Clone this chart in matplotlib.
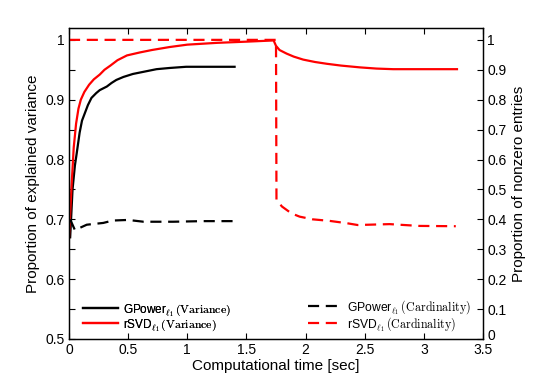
import matplotlib
matplotlib.use("Agg")
import matplotlib.pyplot as plt
import matplotlib.transforms as mtransforms

plt.rcParams['font.family'] = ['Liberation Sans', 'DejaVu Sans']
plt.rcParams['mathtext.fontset'] = 'cm'

# GPower variance (left axis)
gp_var_t = [0.01, 0.03, 0.05, 0.065, 0.09, 0.11, 0.135, 0.16, 0.19, 0.23, 0.26, 0.32, 0.36, 0.40,
            0.46, 0.54, 0.64, 0.74, 0.85, 0.99, 1.2, 1.4]
gp_var_v = [0.67, 0.75, 0.79, 0.81, 0.845, 0.865, 0.878, 0.891, 0.903, 0.911, 0.916, 0.922, 0.928, 0.933,
            0.938, 0.943, 0.947, 0.951, 0.953, 0.955, 0.955, 0.955]

# rSVD variance (left axis)
rs_var_t = [0.0, 0.02, 0.04, 0.06, 0.08, 0.10, 0.13, 0.17, 0.21, 0.26, 0.30, 0.35, 0.41, 0.49, 0.60,
            0.70, 0.85, 1.0, 1.25, 1.5, 1.73, 1.75, 1.78, 1.84, 1.90, 1.98, 2.08, 2.18, 2.30, 2.46,
            2.60, 2.74, 3.0, 3.28]
rs_var_v = [0.669, 0.75, 0.82, 0.86, 0.885, 0.90, 0.913, 0.925, 0.934, 0.942, 0.95, 0.957, 0.966, 0.974,
            0.979, 0.983, 0.988, 0.992, 0.995, 0.997, 0.999, 0.99, 0.983, 0.977, 0.972, 0.967, 0.963,
            0.960, 0.957, 0.954, 0.952, 0.951, 0.951, 0.951]

# GPower cardinality (right axis)
gp_card_t = [0.01, 0.05, 0.15, 0.29, 0.37, 0.50, 0.63, 0.88, 1.13, 1.40]
gp_card_v = [0.40, 0.364, 0.382, 0.388, 0.396, 0.398, 0.392, 0.392, 0.394, 0.394]

# rSVD cardinality (right axis)
rs_card_t = [0.0, 1.75, 1.754, 1.80, 1.88, 1.95, 2.06, 2.20, 2.35, 2.44, 2.71, 2.96, 3.27]
rs_card_v = [1.0, 1.0, 0.465, 0.443, 0.42, 0.409, 0.400, 0.395, 0.387, 0.381, 0.384, 0.378, 0.377]

left_ticks = [0.5, 0.55, 0.6, 0.65, 0.7, 0.75, 0.8, 0.85, 0.9, 0.95, 1.0]
left_labels = ['0.5', '', '0.6', '', '0.7', '', '0.8', '', '0.9', '', '1']
right_ticks = [0, 0.1, 0.2, 0.3, 0.4, 0.5, 0.6, 0.7, 0.8, 0.9, 1.0]
right_labels = ['0', '0.1', '0.2', '0.3', '0.4', '0.5', '0.6', '0.7', '0.8', '0.9', '1']
x_ticks = [0, 0.5, 1, 1.5, 2, 2.5, 3, 3.5]
x_labels = ['0', '0.5', '1', '1.5', '2', '2.5', '3', '3.5']

fig = plt.figure(figsize=(5.34, 3.82), dpi=100)
ax = fig.add_axes([0.1292, 0.1126, 0.7753, 0.8128])
ax2 = ax.twinx()

lw = 1.6
l1, = ax.plot(gp_var_t, gp_var_v, color='black', lw=lw, label=r'GPower$_{\ell_1}\,\mathrm{(Variance)}$')
l2, = ax.plot(rs_var_t, rs_var_v, color='#ff0000', lw=lw, label=r'rSVD$_{\ell_1}\,\mathrm{(Variance)}$')
l3, = ax2.plot(gp_card_t, gp_card_v, color='black', lw=lw, dashes=(5, 3), label=r'GPower$_{\ell_1}\,\mathrm{(Cardinality)}$')
l4, = ax2.plot(rs_card_t, rs_card_v, color='#ff0000', lw=lw, dashes=(5, 3), label=r'rSVD$_{\ell_1}\,\mathrm{(Cardinality)}$')

ax.set_xlim(0, 3.5)
ax.set_ylim(0.5, 1.019)
ax2.set_ylim(0, 1.038)

ax.set_xticks(x_ticks)
ax.set_xticklabels(x_labels)
ax.set_yticks(left_ticks)
ax.set_yticklabels(left_labels)
ax2.set_yticks(right_ticks)
ax2.set_yticklabels(right_labels)

ax.tick_params(axis='both', direction='in', labelsize=10, length=4, width=0.8, top=True, pad=3)
ax2.tick_params(axis='y', direction='in', labelsize=10, length=4, width=0.8, pad=3)

# lift the right-axis "0" label slightly, as in the reference
lbl0 = ax2.get_yticklabels()[0]
lbl0.set_transform(lbl0.get_transform() + mtransforms.ScaledTranslation(0, 4 / 100, fig.dpi_scale_trans))

ax.set_xlabel('Computational time [sec]', fontsize=11, labelpad=1)
ax.set_ylabel('Proportion of explained variance', fontsize=11, labelpad=4)
ax2.set_ylabel('Proportion of nonzero entries', fontsize=11, labelpad=4)

for a in (ax, ax2):
    for s in a.spines.values():
        s.set_linewidth(0.9)

leg1 = ax.legend(handles=[l1, l2], loc='lower left', bbox_to_anchor=(0.034, 0.02), frameon=False,
                 fontsize=8.5, handlelength=3.0, handletextpad=0.35, labelspacing=-0.08, borderpad=0.0,
                 borderaxespad=0.0)
ax.add_artist(leg1)
leg2 = ax2.legend(handles=[l3, l4], loc='lower right', bbox_to_anchor=(0.972, 0.02), frameon=False,
                  fontsize=8.7, handlelength=2.9, handletextpad=0.35, labelspacing=-0.08, borderpad=0.0,
                  borderaxespad=0.0)

fig.savefig('out.png', dpi=100)
